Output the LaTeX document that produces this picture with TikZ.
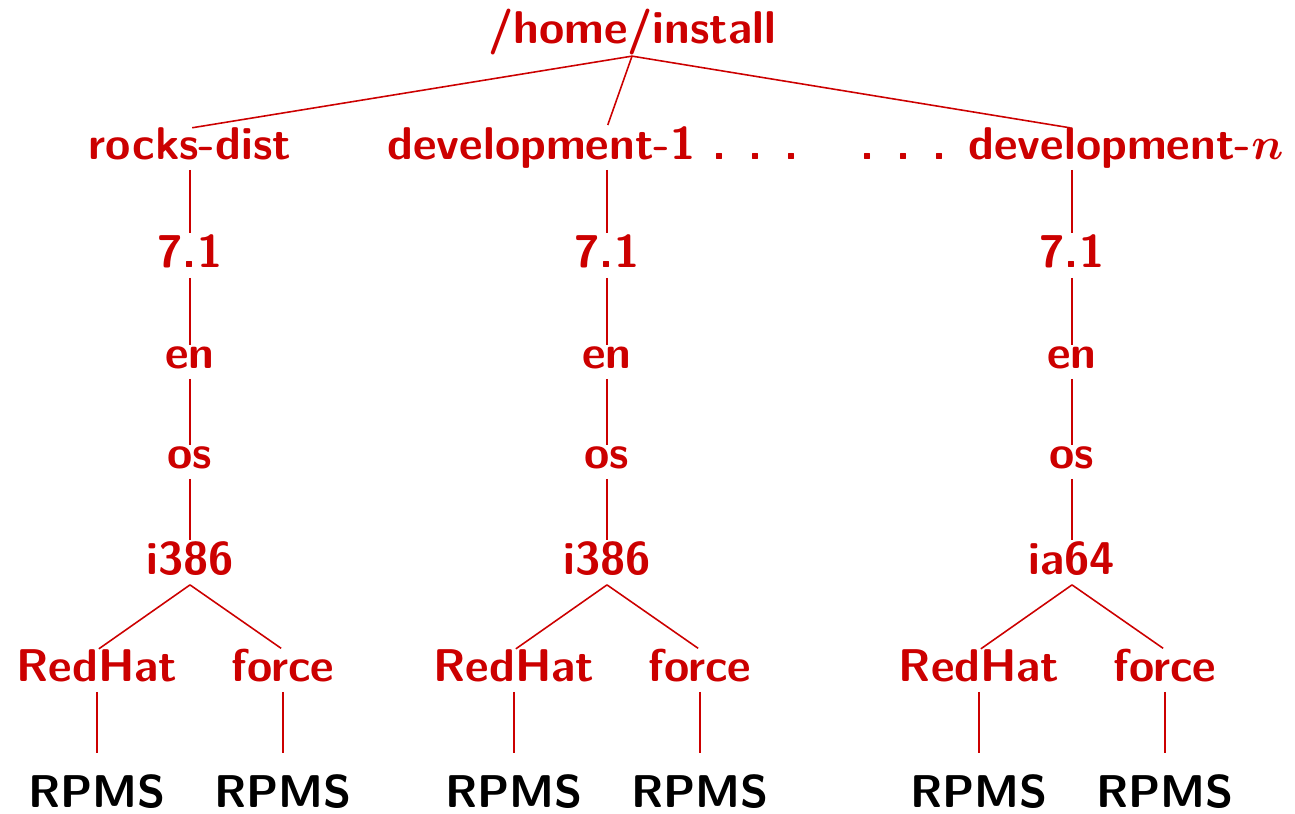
\documentclass[tikz,border=0pt]{standalone}
\definecolor{dirred}{HTML}{CC0000}
\newcommand{\dotgap}{\hspace{0.48em}}
\begin{document}
\begin{tikzpicture}[x=0.2222pt,y=-0.2222pt,
    dir/.style={inner sep=0pt,outer sep=0pt,anchor=base,text depth=2.2pt,
      font=\fontsize{10.2}{12}\selectfont\sffamily\bfseries,text=dirred},
    rpms/.style={dir,text=black},
    branch/.style={draw=dirred,line width=0.35pt,shorten >=0.5pt},
    leaf/.style={branch,shorten >=4.9pt}]

    \useasboundingbox (0,0) rectangle (1295,814);

    \node[dir,text depth=2.7pt] (root) at (632,44) {/home/install};

    \node[dir] (rocks) at (190,160) {rocks-dist};
    \node[dir] (devA) at (607,160) {development-1 .\dotgap.\dotgap.\kern0.6em};
    \node[dir] (devN) at (1072,160) {.\dotgap.\dotgap.\dotgap development-{\boldmath$n$}};

    \draw[branch] (root.south) -- (rocks.north);
    \draw[branch] (root.south) -- (devA.north);
    \draw[branch] (root.south) -- (devN.north);

    % rocks-dist
    \node[dir] (ver1) at (190,268) {7.1};
    \node[dir] (lang1) at (190,369) {en};
    \node[dir] (os1) at (190,469) {os};
    \node[dir] (arch1) at (190,575) {i386};
    \node[dir] (rh1) at (97,682) {RedHat};
    \node[dir] (force1) at (283,682) {force};
    \node[rpms] (rpmsrh1) at (97,808) {RPMS};
    \node[rpms] (rpmsf1) at (283,808) {RPMS};

    \draw[branch] (rocks.south) -- (ver1.north);
    \draw[branch] (ver1.south) -- (lang1.north);
    \draw[branch] (lang1.south) -- (os1.north);
    \draw[branch] (os1.south) -- (arch1.north);
    \draw[branch] (arch1.south) -- (rh1.north);
    \draw[branch] (arch1.south) -- (force1.north);
    \draw[leaf] (rh1.south) -- (rpmsrh1.north);
    \draw[leaf] (force1.south) -- (rpmsf1.north);

    % development-1
    \node[dir] (ver2) at (607,268) {7.1};
    \node[dir] (lang2) at (607,369) {en};
    \node[dir] (os2) at (607,469) {os};
    \node[dir] (arch2) at (607,575) {i386};
    \node[dir] (rh2) at (514,682) {RedHat};
    \node[dir] (force2) at (700,682) {force};
    \node[rpms] (rpmsrh2) at (514,808) {RPMS};
    \node[rpms] (rpmsf2) at (700,808) {RPMS};

    \draw[branch] (devA.south) -- (ver2.north);
    \draw[branch] (ver2.south) -- (lang2.north);
    \draw[branch] (lang2.south) -- (os2.north);
    \draw[branch] (os2.south) -- (arch2.north);
    \draw[branch] (arch2.south) -- (rh2.north);
    \draw[branch] (arch2.south) -- (force2.north);
    \draw[leaf] (rh2.south) -- (rpmsrh2.north);
    \draw[leaf] (force2.south) -- (rpmsf2.north);

    % development-n
    \node[dir] (ver3) at (1072,268) {7.1};
    \node[dir] (lang3) at (1072,369) {en};
    \node[dir] (os3) at (1072,469) {os};
    \node[dir] (arch3) at (1072,575) {ia64};
    \node[dir] (rh3) at (979,682) {RedHat};
    \node[dir] (force3) at (1165,682) {force};
    \node[rpms] (rpmsrh3) at (979,808) {RPMS};
    \node[rpms] (rpmsf3) at (1165,808) {RPMS};

    \draw[branch] (devN.south) -- (ver3.north);
    \draw[branch] (ver3.south) -- (lang3.north);
    \draw[branch] (lang3.south) -- (os3.north);
    \draw[branch] (os3.south) -- (arch3.north);
    \draw[branch] (arch3.south) -- (rh3.north);
    \draw[branch] (arch3.south) -- (force3.north);
    \draw[leaf] (rh3.south) -- (rpmsrh3.north);
    \draw[leaf] (force3.south) -- (rpmsf3.north);

  \end{tikzpicture}
\end{document}
